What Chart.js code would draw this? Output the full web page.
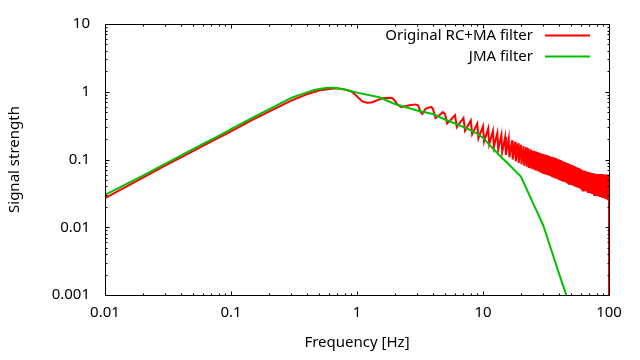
<!DOCTYPE html>
<html>
<head>
<meta charset="utf-8">
<script src="https://cdn.jsdelivr.net/npm/chart.js@4/dist/chart.umd.min.js"></script>
<style>
html,body{margin:0;padding:0;background:#fff;}
#wrap{width:640px;height:360px;}
</style>
</head>
<body>
<div id="wrap"><canvas id="c" width="640" height="360"></canvas></div>
<script>
// ---- data ----
const xTickValues = [0.01, 0.1, 1, 10, 100];
const yTickValues = [0.001, 0.01, 0.1, 1, 10];

const seriesNames = ['Original RC+MA filter', 'JMA filter'];

// JMA filter (green)
const greenFreq = [0.01,0.02,0.03,0.04,0.05,0.06,0.07,0.08,0.09,0.1,0.15,0.2,0.25,0.3,0.35,0.4,0.45,0.5,0.55,0.6,0.65,0.7,0.8,0.9,1,1.5,2,3,4,5,6,7,8,9,10,12,14,16,18,20,25,30,35,40,45,50];
const greenVal  = [0.030,0.058,0.086,0.114,0.142,0.17,0.197,0.224,0.252,0.28,0.42,0.55,0.68,0.81,0.90,0.98,1.05,1.10,1.13,1.15,1.15,1.13,1.08,1.02,0.97,0.83,0.66,0.53,0.47,0.39,0.34,0.30,0.27,0.24,0.21,0.145,0.108,0.085,0.068,0.056,0.0225,0.0108,0.0045,0.0021,0.0011,0.0006];

// Original RC+MA filter (red): smooth part and first ripples
const redLowFreq = [0.01,0.02,0.03,0.05,0.07,0.1,0.15,0.2,0.3,0.4,0.5,0.6,0.65,0.7,0.8,0.9,1.0,1.1,1.2,1.3,1.4,1.5,1.6,1.8,1.9,2.0,2.1,2.25,2.4,2.6,2.75,2.9,3.05,3.2,3.3,3.5,3.75,3.9,4.0,4.2,4.5,4.8,5.0,5.2];
const redLowVal  = [0.027,0.054,0.081,0.133,0.185,0.26,0.39,0.51,0.74,0.92,1.04,1.10,1.12,1.12,1.08,1.02,0.86,0.72,0.69,0.695,0.73,0.77,0.80,0.815,0.81,0.74,0.64,0.59,0.61,0.63,0.64,0.65,0.63,0.50,0.47,0.56,0.59,0.595,0.56,0.41,0.45,0.50,0.47,0.34];

// Red ripple band: ripple maxima and minima
const bandPeakFreq = [6,7,8,9,10,11,12,13,14,15,16,17,18,19,20,21,22,23,24,25,26,27,28,29,30,31,32,33,34,35,36,37,38,39,40,41,42,43,44,45,46,47,48,49,50,51,52,53,54,55,56,57,58,59,60,61,62,63,64,65,66,67,68,69,70,71,72,73,74,75,76,77,78,79,80,81,82,83,84,85,86,87,88,89,90,91,92,93,94,95,96,97,98,99,100];
const bandPeakVal = [0.45,0.41,0.375,0.34,0.31,0.287,0.265,0.247,0.23,0.215,0.203,0.192,0.182,0.173,0.165,
0.158,0.152,0.146,0.14,0.135,0.132,0.129,0.126,0.123,0.12,0.118,0.116,0.114,0.112,0.11,0.108,0.106,0.104,0.102,0.1,
0.098,0.096,0.094,0.092,0.091,0.089,0.088,0.086,0.085,0.083,0.082,0.081,0.08,0.078,0.077,0.076,0.075,0.074,0.072,0.071,
0.07,0.069,0.069,0.068,0.067,0.066,0.066,0.065,0.065,0.064,0.064,0.063,0.063,0.063,0.062,0.062,0.062,0.061,0.061,0.061,
0.061,0.061,0.061,0.061,0.061,0.061,0.061,0.061,0.061,0.06,0.06,0.06,0.06,0.06,0.06,0.06,0.06,0.06,0.06,0.06];
const bandDipFreq = [6.2,7.2,8.2,9.2,10.2,11.2,12.2,13.2,14.2,15.2,16.2,17.2,18.2,19.2,20.2,21.2,22.2,23.2,24.2,25.2,26.2,27.2,28.2,29.2,30.2,31.2,32.2,33.2,34.2,35.2,36.2,37.2,38.2,39.2,40.2,41.2,42.2,43.2,44.2,45.2,46.2,47.2,48.2,49.2,50.2,51.2,52.2,53.2,54.2,55.2,56.2,57.2,58.2,59.2,60.2,61.2,62.2,63.2,64.2,65.2,66.2,67.2,68.2,69.2,70.2,71.2,72.2,73.2,74.2,75.2,76.2,77.2,78.2,79.2,80.2,81.2,82.2,83.2,84.2,85.2,86.2,87.2,88.2,89.2,90.2,91.2,92.2,93.2,94.2,95.2,96.2,97.2,98.2,99.2];
const bandDipVal = [0.30,0.265,0.235,0.205,0.185,0.168,0.153,0.141,0.13,0.117,0.108,0.1,0.094,0.089,0.085,
0.081,0.078,0.075,0.073,0.071,0.069,0.067,0.065,0.063,0.061,0.06,0.059,0.058,0.057,0.055,0.054,0.053,0.052,0.051,0.05,
0.049,0.048,0.047,0.047,0.046,0.045,0.044,0.044,0.043,0.042,0.042,0.041,0.04,0.04,0.039,0.039,0.038,0.038,0.037,0.036,
0.036,0.035,0.035,0.035,0.034,0.034,0.033,0.033,0.033,0.032,0.032,0.032,0.031,0.031,0.031,0.03,0.03,0.03,0.03,0.029,
0.029,0.029,0.029,0.028,0.028,0.028,0.028,0.027,0.027,0.027,0.027,0.027,0.026,0.026,0.026,0.026,0.026,0.026,0.026];
// final drop at the Nyquist edge
const redEndFreq = [100];
const redEndVal  = [0.00001];

// ---- build point lists ----
const redPoints = [];
redLowFreq.forEach((f, i) => redPoints.push({x: f, y: redLowVal[i]}));
bandPeakFreq.forEach((f, i) => {
  redPoints.push({x: f, y: bandPeakVal[i]});
  if (i < bandDipFreq.length) redPoints.push({x: bandDipFreq[i], y: bandDipVal[i]});
});
redEndFreq.forEach((f, i) => redPoints.push({x: f, y: redEndVal[i]}));
const greenPoints = greenFreq.map((f, i) => ({x: f, y: greenVal[i]}));

const FONT = 'Noto Sans';
const FS = 15;
Chart.defaults.font.family = FONT;
Chart.defaults.font.size = FS;
Chart.defaults.color = '#000';

const framePlugin = {
  id: 'frame',
  afterDatasetsDraw(chart) {
    const {ctx, chartArea: a, scales: {x, y}} = chart;
    ctx.save();
    ctx.strokeStyle = '#000';
    ctx.lineWidth = 1;
    const L = a.left + 0.5, R = a.right + 0.5, T = a.top + 0.5, B = a.bottom + 0.5;
    ctx.beginPath();
    ctx.rect(L, T, R - L, B - T);
    ctx.stroke();
    ctx.beginPath();
    // x ticks (bottom and mirrored top)
    for (let d = x.min; d < x.max * 1.001; d *= 10) {
      for (let m = 1; m <= 9; m++) {
        const v = d * m;
        if (v > x.max * 1.0001) break;
        const px = Math.round(x.getPixelForValue(v)) + 0.5;
        const len = m === 1 ? 4 : 2;
        ctx.moveTo(px, B); ctx.lineTo(px, B - len);
        ctx.moveTo(px, T); ctx.lineTo(px, T + len);
      }
    }
    for (let d = y.min; d < y.max * 1.001; d *= 10) {
      for (let m = 1; m <= 9; m++) {
        const v = d * m;
        if (v > y.max * 1.0001) break;
        const py = Math.round(y.getPixelForValue(v)) + 0.5;
        const len = m === 1 ? 4 : 2;
        ctx.moveTo(L, py); ctx.lineTo(L + len, py);
        ctx.moveTo(R, py); ctx.lineTo(R - len, py);
      }
    }
    ctx.stroke();
    // legend (text then line sample, inside top-right)
    ctx.font = FS + 'px "' + FONT + '"';
    ctx.textAlign = 'right';
    ctx.textBaseline = 'middle';
    chart.data.datasets.forEach((ds, i) => {
      const yy = a.top + 11.5 + i * 21;
      ctx.fillStyle = '#000';
      ctx.fillText(ds.label, a.right - 76, yy);
      ctx.strokeStyle = ds.borderColor;
      ctx.lineWidth = 2;
      ctx.beginPath();
      ctx.moveTo(a.right - 64, yy);
      ctx.lineTo(a.right - 19, yy);
      ctx.stroke();
    });
    ctx.restore();
  }
};

new Chart(document.getElementById('c'), {
  type: 'scatter',
  data: {
    datasets: [
      {label: seriesNames[0], data: redPoints, showLine: true, borderColor: '#ff0000', backgroundColor: '#ff0000', borderWidth: 2, pointRadius: 0, tension: 0, order: 1},
      {label: seriesNames[1], data: greenPoints, showLine: true, borderColor: '#00c000', backgroundColor: '#00c000', borderWidth: 2, pointRadius: 0, tension: 0, order: 0}
    ]
  },
  options: {
    responsive: false,
    animation: false,
    layout: {padding: {left: 0, right: 31, top: 21, bottom: 0}},
    plugins: {legend: {display: false}, tooltip: {enabled: false}},
    scales: {
      x: {
        type: 'logarithmic', position: 'bottom', min: 0.01, max: 100,
        afterBuildTicks: s => { s.ticks = xTickValues.map(v => ({value: v})); },
        afterFit: s => { s.height = 65; },
        ticks: {callback: v => String(v), padding: 9, maxRotation: 0, autoSkip: false, color: '#000', font: {size: FS}},
        grid: {display: false, drawTicks: false},
        border: {display: false},
        title: {display: true, text: 'Frequency [Hz]', color: '#000', font: {size: FS}, padding: {top: 0, bottom: 8}}
      },
      y: {
        type: 'logarithmic', position: 'left', min: 0.001, max: 10,
        afterBuildTicks: s => { s.ticks = yTickValues.map(v => ({value: v})); },
        afterFit: s => { s.width = 105; },
        ticks: {callback: v => String(v), padding: 15, autoSkip: false, color: '#000', font: {size: FS}},
        grid: {display: false, drawTicks: false},
        border: {display: false},
        title: {display: true, text: 'Signal strength', color: '#000', font: {size: FS}, padding: {top: 6, bottom: 0}}
      }
    }
  },
  plugins: [framePlugin]
});
</script>
</body>
</html>
